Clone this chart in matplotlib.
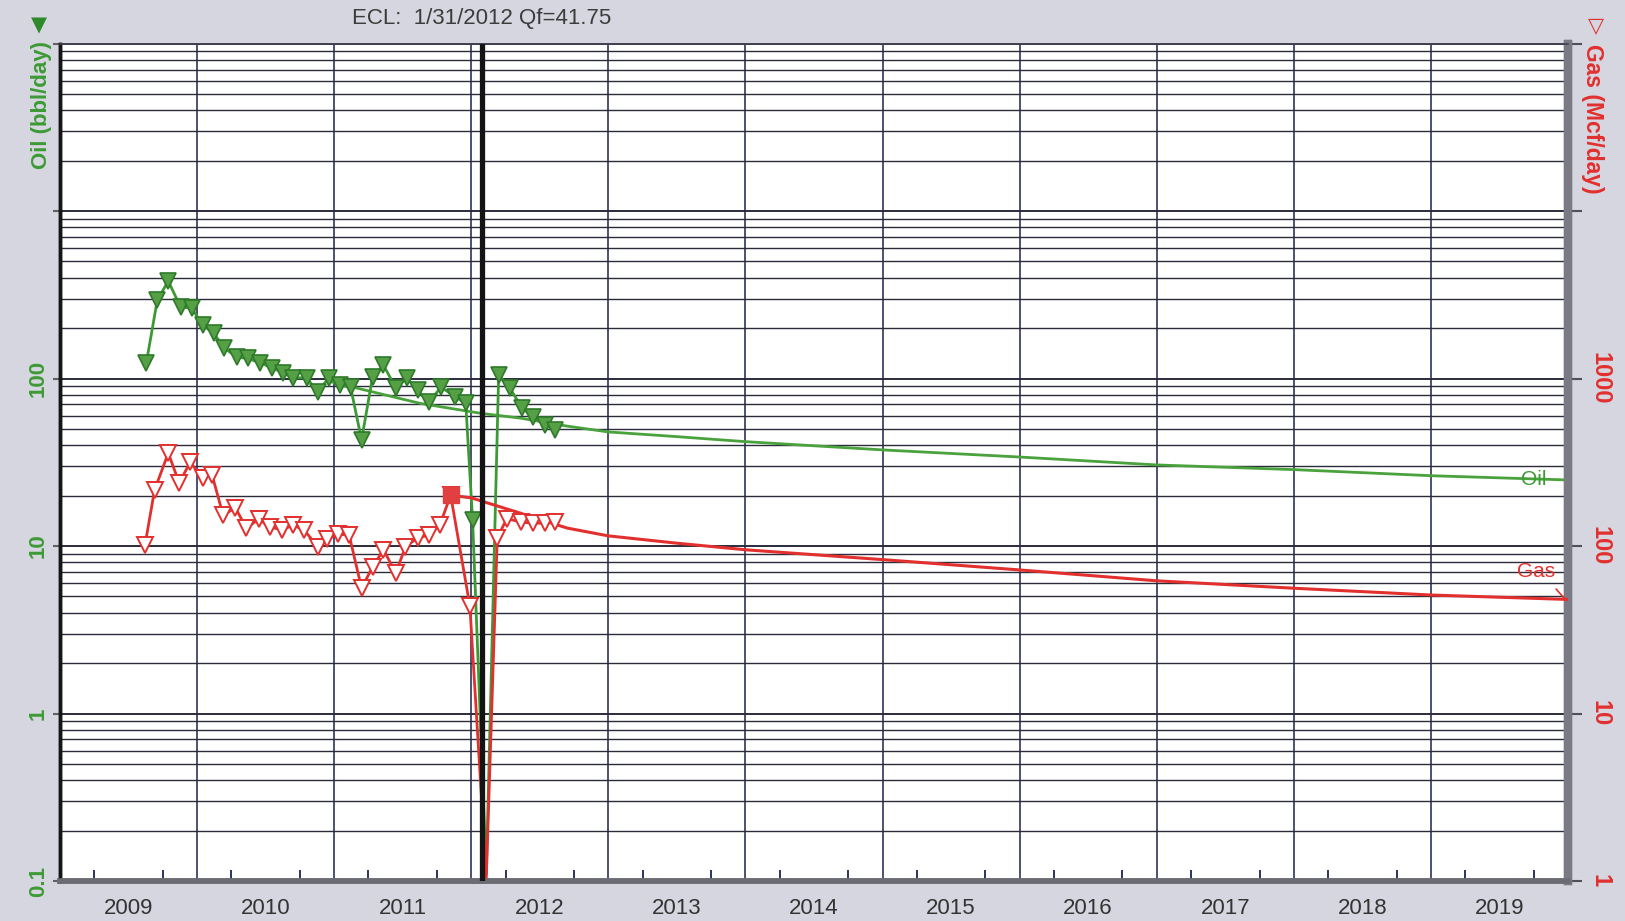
import matplotlib.pyplot as plt
from matplotlib.ticker import FixedLocator, FixedFormatter, LogLocator, NullFormatter

plt.rcParams['font.family'] = ['Liberation Sans', 'DejaVu Sans']

# oil rate history (bbl/day), decimal years
oil_t = [2009.63, 2009.71, 2009.79, 2009.88, 2009.96, 2010.04, 2010.12, 2010.20, 2010.29,
         2010.37, 2010.46, 2010.55, 2010.63, 2010.70, 2010.80, 2010.88, 2010.96, 2011.04,
         2011.12, 2011.20, 2011.28, 2011.36, 2011.45, 2011.53, 2011.61, 2011.69, 2011.78,
         2011.88, 2011.96, 2012.01, 2012.11, 2012.20, 2012.28, 2012.37, 2012.45, 2012.54,
         2012.61]
oil_v = [124, 294, 382, 267, 264, 209, 187, 152, 134,
         132, 124, 116, 108, 101, 101, 83, 101, 91,
         89, 43, 102, 120, 88, 101, 85, 72, 89,
         78, 71, 14.3, 0.11, 105, 88, 67, 59, 53,
         49]

# gas rate history (Mcf/day)
gas_t = [2009.62, 2009.69, 2009.79, 2009.87, 2009.95, 2010.04, 2010.11, 2010.19, 2010.28,
         2010.36, 2010.45, 2010.53, 2010.62, 2010.70, 2010.78, 2010.88, 2010.95, 2011.03,
         2011.11, 2011.20, 2011.28, 2011.36, 2011.45, 2011.52, 2011.61, 2011.69, 2011.77,
         2011.85, 2011.99, 2012.11, 2012.19, 2012.26, 2012.36, 2012.45, 2012.54, 2012.61]
gas_v = [101, 216, 359, 238, 317, 255, 265, 153, 169,
         128, 145, 130, 125, 133, 125, 99, 110, 118,
         116, 56, 75, 95, 69, 99, 112, 116, 133,
         201, 44, 1.05, 112, 146, 139, 137, 137, 139]

# forecasts
oil_fc_t = [2010.99, 2011.63, 2012.07, 2012.36, 2012.7, 2013, 2013.5, 2014, 2015, 2016, 2017, 2018, 2019, 2020]
oil_fc_v = [95, 71, 62, 58, 52, 48, 45, 42, 37.5, 34, 30.5, 28.6, 26.3, 24.8]
gas_fc_t = [2011.85, 2012.0, 2012.36, 2012.7, 2013, 2013.5, 2014, 2015, 2016, 2017, 2018, 2019, 2020]
gas_fc_v = [201, 194, 157, 128, 115, 104, 95, 83, 72, 62, 56, 51, 48]

years = list(range(2009, 2020))
ecl_date = 2012.082

green = '#3c9a34'
red = '#e2302e'
bg = '#d6d6e0'
grid_c = '#2a2c3c'

fig = plt.figure(figsize=(16.25, 9.21), dpi=100, facecolor=bg)
ax = fig.add_axes([0.0369, 0.0434, 0.928, 0.9093])
ax2 = ax.twinx()

ax.set_xlim(2009, 2020)
ax.set_yscale('log')
ax.set_ylim(0.1, 10000)
ax2.set_yscale('log')
ax2.set_ylim(1, 100000)

# horizontal log grid
ax.yaxis.set_minor_locator(LogLocator(base=10, subs=range(2, 10)))
ax.yaxis.set_minor_formatter(NullFormatter())
ax.grid(axis='y', which='minor', color=grid_c, lw=1.0)
ax.grid(axis='y', which='major', color=grid_c, lw=1.4)
ax2.yaxis.set_minor_locator(LogLocator(base=10, subs=range(2, 10)))
ax2.yaxis.set_minor_formatter(NullFormatter())
ax2.tick_params(axis='y', which='minor', length=0)

# year lines
for y in years[1:]:
    ax.axvline(y, color='#1c2048', lw=1.1, zorder=1)

# x ticks: labels centred in years, quarter ticks inside
ax.xaxis.set_major_locator(FixedLocator([y + 0.5 for y in years]))
ax.xaxis.set_major_formatter(FixedFormatter([str(y) for y in years]))
ax.xaxis.set_minor_locator(FixedLocator([y + q / 4 for y in years for q in (1, 2, 3)]))
ax.tick_params(axis='x', which='major', length=0, pad=12, labelsize=16, labelcolor='#333333')
ax.tick_params(axis='x', which='minor', direction='in', length=8, width=1.3, color='#1e2450')

# left axis (oil)
ax.yaxis.set_major_locator(FixedLocator([0.1, 1, 10, 100, 1000, 10000]))
ax.yaxis.set_major_formatter(FixedFormatter(['0.1', '1', '10', '100', '', '']))
ax.tick_params(axis='y', which='major', length=5, width=1.5, color='#606068', pad=3,
               labelsize=16, labelcolor=green, labelrotation=90)
ax.tick_params(axis='y', which='minor', length=0)
for lab in ax.get_yticklabels():
    lab.set_fontweight('bold')
    lab.set_va('center')

# right axis (gas)
ax2.yaxis.set_major_locator(FixedLocator([1, 10, 100, 1000, 10000, 100000]))
ax2.yaxis.set_major_formatter(FixedFormatter(['1', '10', '100', '1000', '', '']))
ax2.tick_params(axis='y', which='major', length=10, width=1.5, color='#505058', pad=5,
                labelsize=17, labelcolor=red, labelrotation=-90)
for lab in ax2.get_yticklabels():
    lab.set_fontweight('bold')
    lab.set_va('center')

# spines
for a in (ax, ax2):
    a.spines['top'].set_color('#404050')
    a.spines['top'].set_linewidth(1.2)
    a.spines['left'].set_color('#151515')
    a.spines['left'].set_linewidth(2.5)
    a.spines['bottom'].set_color('#6c6c74')
    a.spines['bottom'].set_linewidth(4)
    a.spines['right'].set_color('#7a7a84')
    a.spines['right'].set_linewidth(6)

# oil
oil_marks = [i for i, v in enumerate(oil_v) if v > 0.2]
ax.plot(oil_fc_t, oil_fc_v, color='#4aa23c', lw=2, zorder=3)
ax.plot(oil_t, oil_v, color=green, lw=2, marker='v', ms=12, markevery=oil_marks,
        mfc='#55a044', mec='#2e7a2a', mew=1.2, zorder=4)

# gas
gas_marks = [i for i, v in enumerate(gas_v) if v > 2]
ax2.plot(gas_fc_t, gas_fc_v, color=red, lw=2.2, zorder=3)
ax2.plot(gas_t, gas_v, color=red, lw=2, marker='v', ms=12, markevery=gas_marks,
         mfc='white', mec=red, mew=1.4, zorder=4)
ax2.plot([gas_fc_t[0]], [gas_fc_v[0]], marker='s', ms=12, color='#e24040', zorder=5)

# ECL line
ax2.axvline(ecl_date, color='#141414', lw=3.8, zorder=10)

# curve labels
ax.text(2019.75, 24.8, 'Oil', color=green, fontsize=15, ha='center', va='center', zorder=6)
ax2.text(2019.77, 70, 'Gas', color=red, fontsize=15, ha='center', va='center', zorder=6)
ax2.annotate('', xy=(2020.0, 46), xytext=(2019.9, 57),
             arrowprops=dict(arrowstyle='-', color=red, lw=1.2))

# header texts
fig.text(0.2166, 0.980, 'ECL:  1/31/2012 Qf=41.75', fontsize=16, color='#3c3c3c',
         ha='left', va='center')
fig.text(0.0255, 0.955, 'Oil (bbl/day)', rotation=90, ha='center', va='top',
         fontsize=16, fontweight='bold', color=green)
fig.text(0.980, 0.952, 'Gas (Mcf/day)', rotation=-90, ha='center', va='top',
         fontsize=16.5, fontweight='bold', color=red)
fig.text(0.024, 0.972, '\u25bc', fontsize=15, color='#2e8a2a', ha='center', va='center',
         family='DejaVu Sans')
fig.text(0.982, 0.972, '\u25bd', fontsize=15, color=red, ha='center', va='center',
         family='DejaVu Sans')

fig.savefig('out.png', dpi=100, facecolor=bg)
